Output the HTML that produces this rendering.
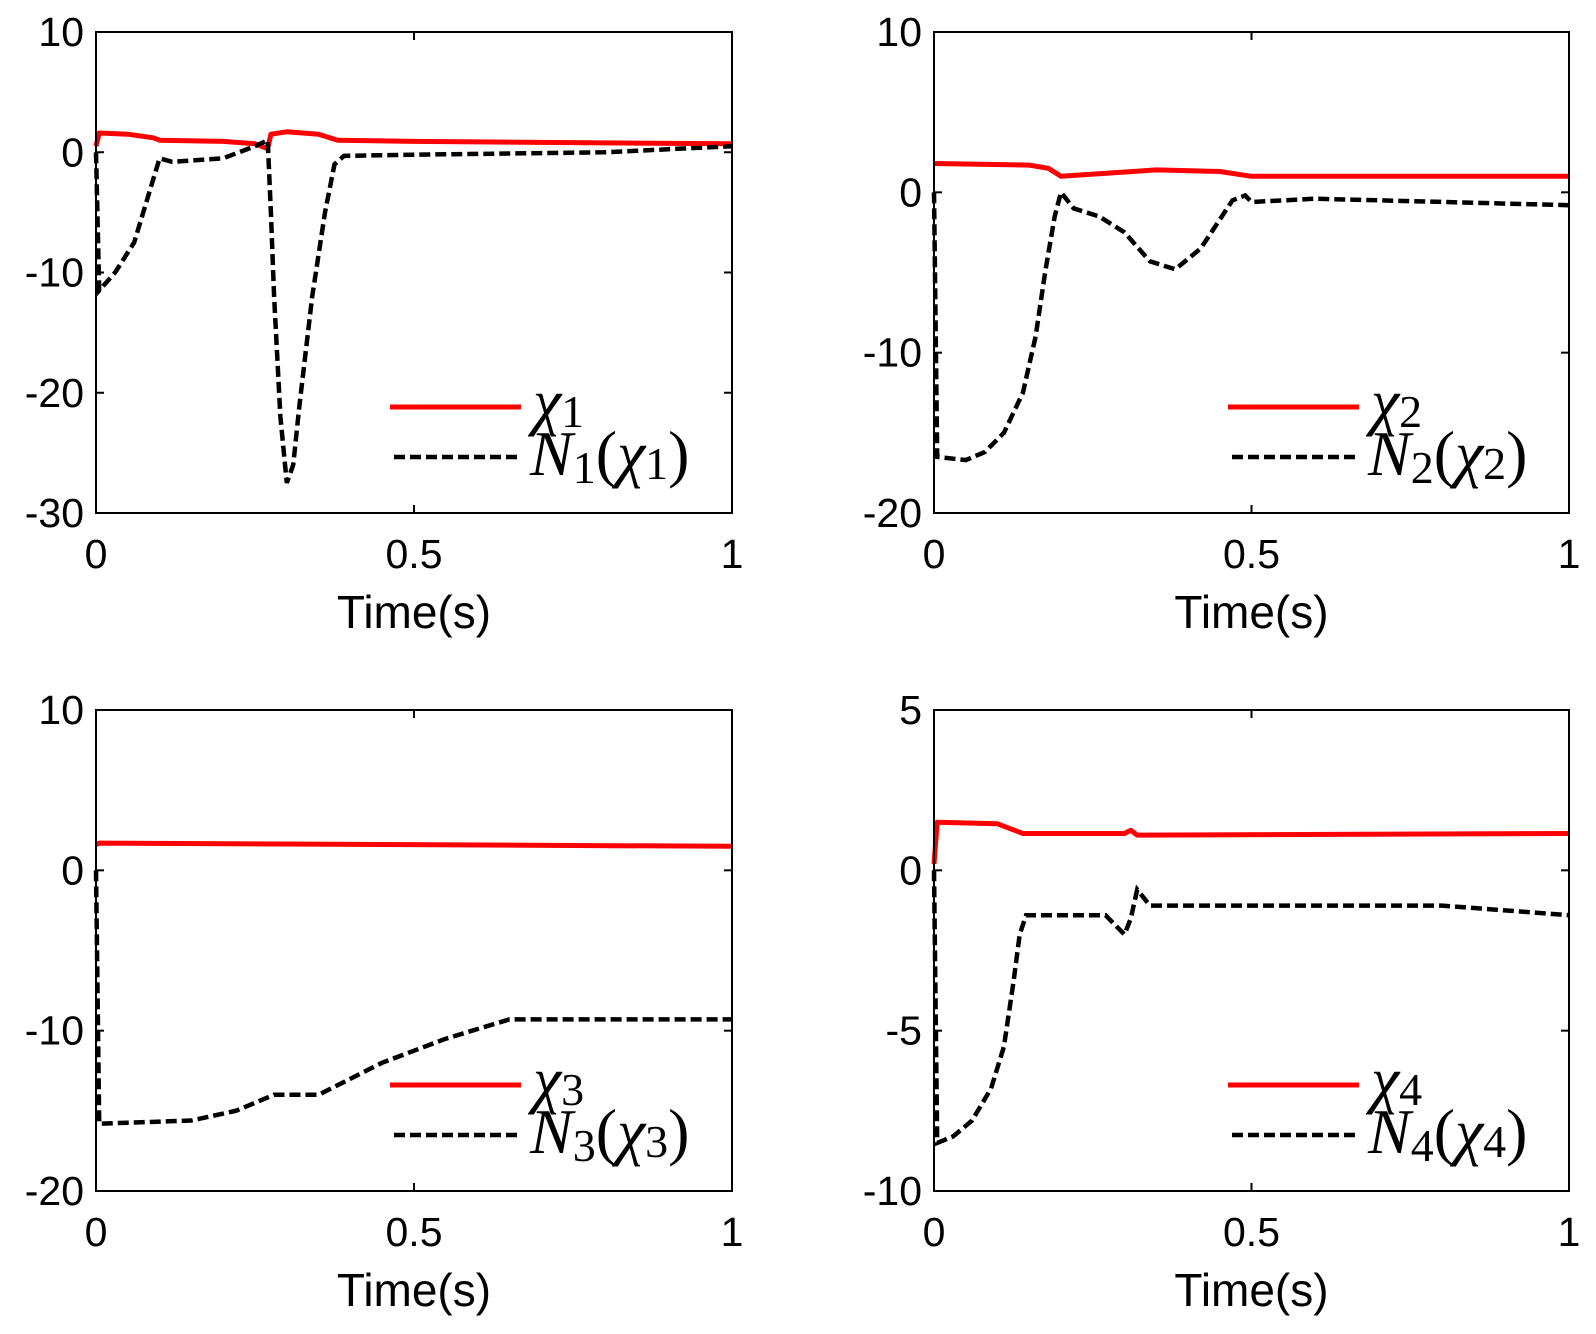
<!DOCTYPE html>
<html><head><meta charset="utf-8"><style>
body{margin:0;background:#fff}
svg text{font-family:"Liberation Sans",sans-serif}
.lg{font-family:"Liberation Serif",serif;font-style:italic}
</style></head><body>
<svg id="fig" width="1596" height="1329" viewBox="0 0 1596 1329"></svg>
<script>
const xTicks=[0,0.5,1];
const xTickLabels=["0","0.5","1"];
const chi1=[[0,0.5],[0.005,1.6],[0.05,1.5],[0.09,1.2],[0.1,1.0],[0.2,0.9],[0.25,0.7],[0.27,0.3],[0.275,1.5],[0.3,1.7],[0.35,1.5],[0.38,1.0],[0.5,0.9],[1,0.7]];
const N1=[[0,0],[0.005,-11.5],[0.03,-10],[0.06,-7.5],[0.08,-4],[0.1,-0.5],[0.12,-0.8],[0.2,-0.5],[0.25,0.5],[0.27,1],[0.275,-5],[0.28,-12],[0.29,-22],[0.3,-27.5],[0.31,-26],[0.32,-21],[0.34,-12],[0.36,-5],[0.375,-1],[0.39,-0.3],[0.5,-0.2],[0.8,0],[1,0.5]];
const chi2=[[0,1.8],[0.15,1.7],[0.18,1.5],[0.2,1.0],[0.35,1.4],[0.45,1.3],[0.5,1.0],[1,1.0]];
const N2=[[0,0],[0.005,-16.5],[0.05,-16.7],[0.08,-16.2],[0.11,-15],[0.14,-12.5],[0.16,-9],[0.175,-5],[0.19,-1.5],[0.2,0],[0.22,-1],[0.26,-1.5],[0.3,-2.5],[0.34,-4.3],[0.38,-4.8],[0.42,-3.5],[0.47,-0.5],[0.49,-0.2],[0.5,-0.6],[0.6,-0.4],[1,-0.8]];
const chi3=[[0,1.6],[0.005,1.7],[1,1.5]];
const N3=[[0,0],[0.005,-15.8],[0.15,-15.6],[0.22,-15],[0.28,-14],[0.35,-14],[0.45,-12],[0.55,-10.5],[0.65,-9.3],[1,-9.3]];
const chi4=[[0,0.2],[0.005,1.5],[0.1,1.45],[0.14,1.15],[0.3,1.15],[0.31,1.25],[0.32,1.1],[1,1.15]];
const N4=[[0,0],[0.005,-8.5],[0.03,-8.3],[0.06,-7.8],[0.09,-6.8],[0.11,-5.5],[0.125,-3.5],[0.135,-2],[0.145,-1.4],[0.2,-1.4],[0.27,-1.4],[0.3,-2],[0.31,-1.5],[0.32,-0.6],[0.34,-1.1],[0.5,-1.1],[0.8,-1.1],[1,-1.4]];
const yTicks1=[10,0,-10,-20,-30];
const yTicks2=[10,0,-10,-20];
const yTicks3=[10,0,-10,-20];
const yTicks4=[5,0,-5,-10];
const panels=[
 {x0:96,x1:732,y0:32,y1:513,yt:yTicks1,a:chi1,b:N1,n:"1"},
 {x0:934,x1:1569,y0:32,y1:513,yt:yTicks2,a:chi2,b:N2,n:"2"},
 {x0:96,x1:732,y0:710,y1:1191,yt:yTicks3,a:chi3,b:N3,n:"3"},
 {x0:934,x1:1569,y0:710,y1:1191,yt:yTicks4,a:chi4,b:N4,n:"4"}];
const NS="http://www.w3.org/2000/svg";
const svg=document.getElementById('fig');
function mk(t,at,p){const e=document.createElementNS(NS,t);for(const k in at)e.setAttribute(k,at[k]);(p||svg).appendChild(e);return e;}
panels.forEach((P,i)=>{
 const g=mk('g',{});
 
 
 const ymax=P.yt[0],ymin=P.yt[P.yt.length-1];
 const sx=v=>P.x0+(v-xTicks[0])/(xTicks[xTicks.length-1]-xTicks[0])*(P.x1-P.x0);
 const sy=v=>P.y0+(ymax-v)/(ymax-ymin)*(P.y1-P.y0);
 const pts=a=>a.map(p=>sx(p[0]).toFixed(1)+','+sy(p[1]).toFixed(1)).join(' ');
 const l1=mk('polyline',{points:pts(P.a),fill:'none',stroke:'#ff0000','stroke-width':5,'stroke-linejoin':'round'},g);
 
 
 const l2=mk('polyline',{points:pts(P.b),fill:'none',stroke:'#000','stroke-width':4.5,'stroke-dasharray':'11 5'},g);
 
 
 const box=mk('rect',{x:P.x0,y:P.y0,width:P.x1-P.x0,height:P.y1-P.y0,fill:'none',stroke:'#000','stroke-width':2},g);
 
 
 xTicks.forEach((t,j)=>{
  const x=sx(t);
  mk('line',{x1:x,x2:x,y1:P.y1,y2:P.y1-8,stroke:'#000','stroke-width':2},g);
  mk('line',{x1:x,x2:x,y1:P.y0,y2:P.y0+8,stroke:'#000','stroke-width':2},g);
  const tx=mk('text',{x:x,y:P.y1+55,'font-size':41,'text-anchor':'middle'},g);
  tx.textContent=xTickLabels[j];
  
  
 });
 P.yt.forEach(t=>{
  const y=sy(t);
  mk('line',{x1:P.x0,x2:P.x0+8,y1:y,y2:y,stroke:'#000','stroke-width':2},g);
  mk('line',{x1:P.x1,x2:P.x1-8,y1:y,y2:y,stroke:'#000','stroke-width':2},g);
  const ty=mk('text',{x:P.x0-12,y:y+14,'font-size':41,'text-anchor':'end'},g);
  ty.textContent=String(t);
  
  
 });
 const xl=mk('text',{x:(P.x0+P.x1)/2,y:P.y1+115,'font-size':46,'text-anchor':'middle'},g);
 xl.textContent='Time(s)';
 
 
 const lx=P.x0+294,ly=P.y0+375;
 mk('line',{x1:lx,x2:lx+131,y1:ly,y2:ly,stroke:'#ff0000','stroke-width':5},g);
 mk('line',{x1:lx+4,x2:lx+131,y1:ly+50,y2:ly+50,stroke:'#000','stroke-width':4.5,'stroke-dasharray':'11 5'},g);
 const t1=mk('text',{x:lx+143,y:ly+16,'font-size':64,'class':'lg'},g);
 t1.innerHTML='χ<tspan font-style="normal" font-size="46" dy="4">'+P.n+'</tspan>';
 
 
 const t2=mk('text',{x:lx+140,y:ly+68,'font-size':64,'class':'lg'},g);
 t2.innerHTML='N<tspan font-style="normal" font-size="46" dy="8">'+P.n+'</tspan><tspan font-style="normal" dy="-8">(</tspan>χ<tspan font-style="normal" font-size="46" dy="4">'+P.n+'</tspan><tspan font-style="normal" dy="-4">)</tspan>';
 
 
});
</script>
</body></html>
